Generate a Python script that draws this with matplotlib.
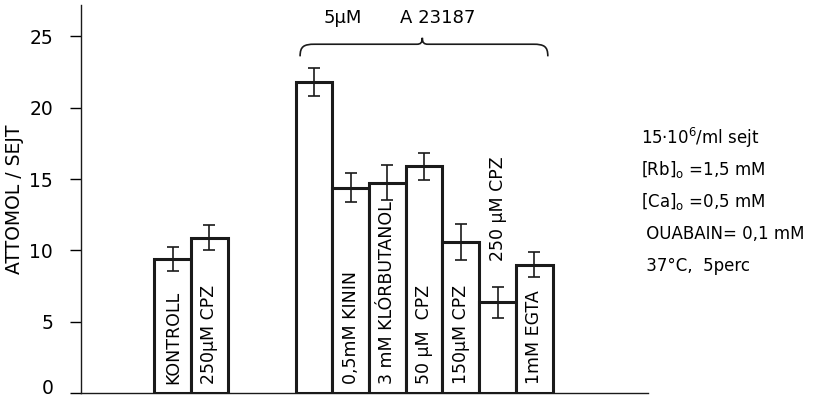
import matplotlib
matplotlib.use('Agg')
import matplotlib.pyplot as plt
from matplotlib.path import Path
from matplotlib.patches import PathPatch
from matplotlib.transforms import ScaledTranslation

# Rb uptake, attomol / cell
ctrl_labels = ['KONTROLL', '250µM CPZ']
ctrl_values = [9.4, 10.9]
ctrl_errors = [0.85, 0.9]

a23_labels = ['', '0,5mM KININ', '3 mM KLÓRBUTANOL', '50 µM  CPZ',
              '150µM CPZ', '250 µM CPZ', '1mM EGTA']
a23_values = [21.8, 14.4, 14.75, 15.9, 10.6, 6.35, 9.0]
a23_errors = [1.0, 1.0, 1.2, 0.95, 1.25, 1.1, 0.85]

y_ticks = [0, 5, 10, 15, 20, 25]

conditions = ['15·10$^6$/ml sejt',
              '[Rb]$_\\mathrm{o}$ =1,5 mM',
              '[Ca]$_\\mathrm{o}$ =0,5 mM',
              ' OUABAIN= 0,1 mM',
              ' 37°C,  5perc']

plt.rcParams['font.family'] = ['DejaVu Sans']
plt.rcParams['mathtext.fontset'] = 'dejavusans'
FS = 12.5

fig = plt.figure(figsize=(8.13, 3.99), dpi=100)
ax = fig.add_axes([81 / 813, 6 / 399, 567 / 813, 388 / 399])

ctrl_x = [2.5, 3.5]
a23_x = [5.85 + 0.5 + i for i in range(len(a23_values))]

bar_kw = dict(width=1.0, color='white', edgecolor='#1a1a1a', linewidth=2.2, zorder=2)
err_kw = dict(fmt='none', ecolor='#1a1a1a', elinewidth=1.2, capsize=4.5, capthick=1.2, zorder=3)

ax.bar(ctrl_x, ctrl_values, **bar_kw)
ax.bar(a23_x, a23_values, **bar_kw)
ax.errorbar(ctrl_x, ctrl_values, yerr=ctrl_errors, **err_kw)
ax.errorbar(a23_x, a23_values, yerr=a23_errors, **err_kw)

# vertical labels inside the bars
for x, lab in zip(ctrl_x, ctrl_labels):
    ax.text(x, 0.6, lab, rotation=90, ha='center', va='bottom', fontsize=FS, zorder=4)
for x, lab, v, e in zip(a23_x, a23_labels, a23_values, a23_errors):
    if lab.startswith('250'):
        # bar too short, label goes above
        ax.text(x, v + e + 1.8, lab, rotation=90, ha='center', va='bottom', fontsize=FS)
    else:
        ax.text(x, 0.6, lab, rotation=90, ha='center', va='bottom', fontsize=FS, zorder=4)

# curly brace over the ionophore group
xl, xr, xm = 5.97, 12.72, 9.3
yb, yh, yp = 23.6, 24.45, 24.9
verts = [(xl, yb), (xl, yh - 0.15), (xl + 0.1, yh), (xl + 0.4, yh),
         (xm - 0.15, yh),
         (xm - 0.05, yh), (xm, yh + 0.1), (xm, yp),
         (xm, yh + 0.1), (xm + 0.05, yh), (xm + 0.15, yh),
         (xr - 0.4, yh),
         (xr - 0.1, yh), (xr, yh - 0.15), (xr, yb)]
codes = [Path.MOVETO, Path.CURVE4, Path.CURVE4, Path.CURVE4,
         Path.LINETO,
         Path.CURVE4, Path.CURVE4, Path.CURVE4,
         Path.CURVE4, Path.CURVE4, Path.CURVE4,
         Path.LINETO,
         Path.CURVE4, Path.CURVE4, Path.CURVE4]
ax.add_patch(PathPatch(Path(verts, codes), fill=False, lw=1.2,
                       edgecolor='#1a1a1a', clip_on=False))
ax.text(6.6, 26.3, '5µM', fontsize=13, va='center', ha='left')
ax.text(8.68, 26.3, 'A 23187', fontsize=13, va='center', ha='left')

# experimental conditions
for i, line in enumerate(conditions):
    fig.text(641 / 813, 1 - (138 + i * 32) / 399, line, fontsize=FS - 0.5,
             ha='left', va='center')

ax.set_xlim(0, 567 / 36.7)
ax.set_ylim(0, 27.2)
ax.set_yticks(y_ticks)
ax.set_yticklabels([str(t) for t in y_ticks], fontsize=13.5)
ax.set_xticks([])
ax.tick_params(axis='y', direction='out', length=8, width=1.0, pad=12)
# nudge the zero label up so it stays inside the figure
zero = ax.get_yticklabels()[0]
zero.set_transform(zero.get_transform() + ScaledTranslation(0, 6 / 100, fig.dpi_scale_trans))
ax.set_ylabel('ATTOMOL / SEJT', fontsize=13.5)
ax.yaxis.set_label_coords(-57 / 567, 0.5)
for s in ['top', 'right']:
    ax.spines[s].set_visible(False)
for s in ['left', 'bottom']:
    ax.spines[s].set_linewidth(1.0)
    ax.spines[s].set_color('#1a1a1a')

fig.savefig('out.png', dpi=100)
